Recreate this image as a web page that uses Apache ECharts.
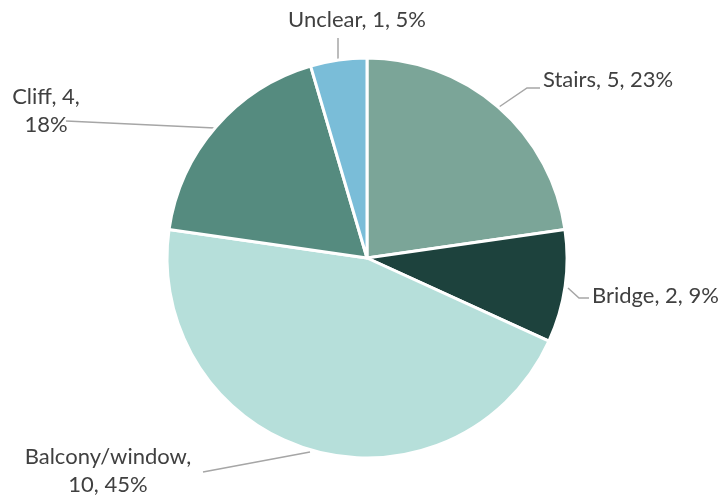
<!DOCTYPE html>
<html>
<head>
<meta charset="utf-8">
<script src="https://cdn.jsdelivr.net/npm/echarts@6/dist/echarts.min.js"></script>
<style>
  html, body { margin: 0; padding: 0; background: #ffffff; }
  #chart { width: 720px; height: 495px; }
</style>
</head>
<body>
<div id="chart"></div>
<script>
// Fall incidents by location
const categories = ['Stairs', 'Bridge', 'Balcony/window', 'Cliff', 'Unclear'];
const counts = [5, 2, 10, 4, 1];
const sliceColors = ['#7BA598', '#1D423D', '#B6DFDA', '#558B7F', '#7ABDD8'];
// label text breaks onto a second line after this many parts (null = single line)
const labelBreaks = [null, null, 1, 2, null];

// label placement: anchor, alignment and leader line points (pixels)
const labelPlacement = [
  { x: 543, y: 80, align: 'left', pts: [[499, 107], [527, 88], [540, 88]] },
  { x: 592, y: 296, align: 'left', pts: [[568, 288], [579, 298], [589, 298]] },
  { x: 108, y: 471, align: 'center', pts: [[310, 452], [203, 472], [203, 472]] },
  { x: 46, y: 111, align: 'center', pts: [[215, 128], [66, 121], [66, 121]] },
  { x: 357, y: 20, align: 'center', pts: [[338, 62], [338, 38], [338, 38]] }
];

const chart = echarts.init(document.getElementById('chart'), null, { renderer: 'canvas' });

chart.setOption({
  animation: false,
  backgroundColor: '#ffffff',
  series: [{
    type: 'pie',
    center: [367, 258],
    radius: 200,
    startAngle: 90,
    clockwise: true,
    percentPrecision: 0,
    data: categories.map((name, i) => ({
      name: name,
      value: counts[i],
      itemStyle: { color: sliceColors[i] }
    })),
    itemStyle: { borderColor: '#ffffff', borderWidth: 3 },
    label: {
      show: true,
      position: 'outside',
      overflow: 'none',
      width: 300,
      color: '#404040',
      fontFamily: 'Lato, "Open Sans", sans-serif',
      fontSize: 22,
      lineHeight: 28,
      formatter: function (p) {
        const parts = [p.name, String(p.value), p.percent + '%'];
        const b = labelBreaks[p.dataIndex];
        if (b == null) return parts.join(', ');
        return parts.slice(0, b).join(', ') + ',\n' + parts.slice(b).join(', ');
      }
    },
    labelLine: {
      show: true,
      lineStyle: { color: '#A6A6A6', width: 1.5 }
    },
    labelLayout: function (params) {
      const l = labelPlacement[params.dataIndex];
      return {
        x: l.x,
        y: l.y,
        align: l.align,
        verticalAlign: 'middle',
        labelLinePoints: l.pts
      };
    },
    emphasis: { disabled: true }
  }]
});
</script>
</body>
</html>
